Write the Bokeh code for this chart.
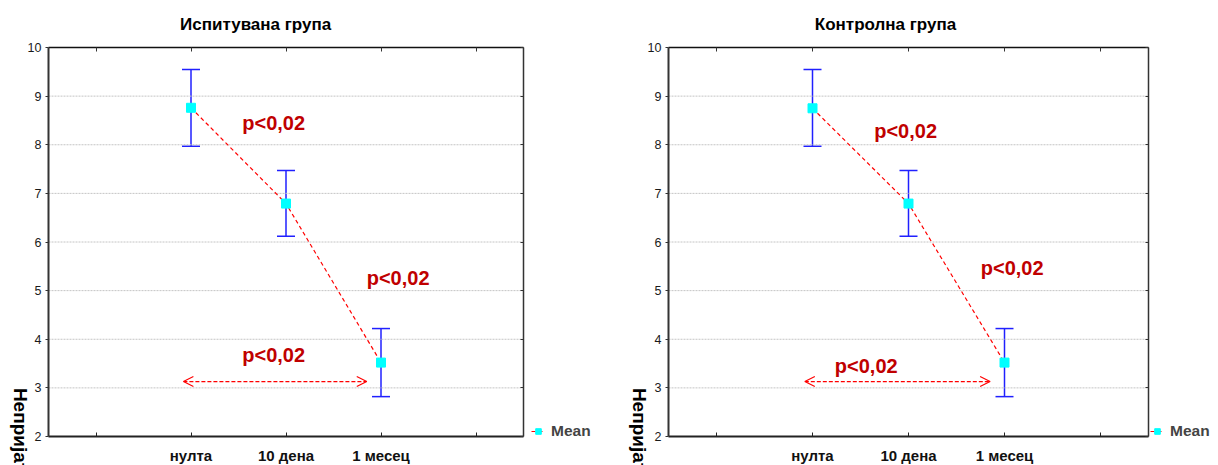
import math
from bokeh.plotting import figure
from bokeh.models import (FixedTicker, LinearAxis, Whisker, ColumnDataSource, Label,
                          Arrow, OpenHead, TeeHead, Legend, LegendItem, Range1d)
from bokeh.layouts import row
from bokeh.embed import file_html
from bokeh.resources import INLINE

# ---------------- data ----------------
categories = ["нулта", "10 дена", "1 месец"]
cat_pos = [1, 2, 3]
test_mean = [8.76, 6.79, 3.52]
test_lower = [7.97, 6.12, 2.82]
test_upper = [9.55, 7.47, 4.22]
ctrl_mean = [8.75, 6.79, 3.52]
ctrl_lower = [7.97, 6.12, 2.82]
ctrl_upper = [9.55, 7.47, 4.22]
titles = ["Испитувана група", "Контролна група"]
y_label = "Непријатност"
p_text = "p<0,02"
legend_label = "Mean"
y_ticks = [2, 3, 4, 5, 6, 7, 8, 9, 10]
x_ticks = [0, 1, 2, 3, 4]
grid_y = [3, 4, 5, 6, 7, 8, 9]

FONT = "Liberation Sans"
RED_TXT = "#c00000"
W, H = 609, 465
XMIN, XMAX, YMIN, YMAX = -0.5, 4.5, 2, 10
FRAME_TOP, FRAME_BOTTOM = 47, 436


def panel(title, means, lows, ups, fl, fr, title_x, ylab_x, ptxt, leg_x):
    # the figure's frame covers the whole canvas; the plotting box (fl..fr, top..bottom)
    # is drawn with fixed-location axes
    xs = (fr - fl) / (XMAX - XMIN)
    ys = (FRAME_BOTTOM - FRAME_TOP) / (YMAX - YMIN)
    xr = Range1d(XMIN - fl / xs, XMAX + (W - fr) / xs)
    yr = Range1d(YMIN - (H - FRAME_BOTTOM) / ys, YMAX + FRAME_TOP / ys)
    p = figure(width=W, height=H, x_range=xr, y_range=yr,
               output_backend="svg", toolbar_location=None,
               min_border_left=0, min_border_right=0, min_border_top=0, min_border_bottom=0)
    p.outline_line_color = None
    p.grid.visible = False

    # horizontal grid lines
    p.segment(x0=XMIN, x1=XMAX, y0=grid_y, y1=grid_y, line_color="#c4c4c4",
              line_dash="2 1", line_width=1)

    # bottom axis
    xa = p.xaxis[0]
    xa.fixed_location = YMIN
    xa.bounds = (XMIN, XMAX)
    xa.ticker = FixedTicker(ticks=x_ticks)
    xa.major_label_overrides = {0: "", 1: categories[0], 2: categories[1], 3: categories[2], 4: ""}
    xa.major_tick_in = 4
    xa.major_tick_out = 0
    xa.minor_tick_line_color = None
    xa.axis_line_width = 2
    xa.axis_line_color = "#222222"
    xa.major_tick_line_color = "#222222"
    xa.major_label_standoff = 10
    xa.major_label_text_font = FONT
    xa.major_label_text_font_style = "bold"
    xa.major_label_text_font_size = "15px"
    xa.major_label_text_color = "#111111"

    # left axis
    ya = p.yaxis[0]
    ya.fixed_location = XMIN
    ya.bounds = (YMIN, YMAX)
    ya.ticker = FixedTicker(ticks=y_ticks)
    ya.major_tick_in = 0
    ya.major_tick_out = 3
    ya.minor_tick_line_color = None
    ya.axis_line_width = 2
    ya.axis_line_color = "#333333"
    ya.major_tick_line_color = "#333333"
    ya.major_label_standoff = 4
    ya.major_label_text_font = FONT
    ya.major_label_text_font_size = "12.5px"
    ya.major_label_text_color = "#1a1a1a"

    # top and right frame lines (tick marks only)
    top = LinearAxis(ticker=FixedTicker(ticks=x_ticks), fixed_location=YMAX, bounds=(XMIN, XMAX),
                     major_tick_in=4, major_tick_out=0, minor_tick_line_color=None,
                     major_label_text_font_size="1px", major_label_text_color=None,
                     major_label_standoff=0, axis_line_width=1.5, axis_line_color="#111111",
                     major_tick_line_color="#333333")
    p.add_layout(top, "above")
    right = LinearAxis(ticker=FixedTicker(ticks=y_ticks), fixed_location=XMAX, bounds=(YMIN, YMAX),
                       major_tick_in=3, major_tick_out=0, minor_tick_line_color=None,
                       major_label_text_font_size="1px", major_label_text_color=None,
                       major_label_standoff=0, axis_line_width=1.5, axis_line_color="#333333",
                       major_tick_line_color="#333333")
    p.add_layout(right, "right")

    src = ColumnDataSource(dict(x=cat_pos, mean=means, lower=lows, upper=ups))
    wh = Whisker(source=src, base="x", upper="upper", lower="lower",
                 line_color="#2020ff", line_width=1.5,
                 upper_head=TeeHead(size=18, line_color="#2020ff", line_width=1.5),
                 lower_head=TeeHead(size=18, line_color="#2020ff", line_width=1.5))
    p.add_layout(wh)
    lr = p.line("x", "mean", source=src, line_color="#ff0000", line_width=1.2, line_dash="4 3")
    sr = p.scatter("x", "mean", source=src, marker="square", size=9,
                   fill_color="#00ffff", line_color="#00ffff")

    arr = Arrow(x_start=0.92, y_start=3.13, x_end=2.85, y_end=3.13,
                line_color="#ff0000", line_width=1.2, line_dash="4 2",
                start=OpenHead(size=10, line_color="#ff0000", line_width=1.2),
                end=OpenHead(size=10, line_color="#ff0000", line_width=1.2))
    p.add_layout(arr)

    for (tx, ty) in ptxt:
        p.add_layout(Label(x=tx, y=ty, text=p_text, text_align="center", text_baseline="middle",
                           text_font=FONT, text_font_style="bold", text_font_size="20px",
                           text_color=RED_TXT))

    p.add_layout(Label(x=title_x, y=10.47, text=title, text_align="center", text_baseline="middle",
                       text_font=FONT, text_font_style="bold", text_font_size="17px",
                       text_color="#000000"))
    p.add_layout(Label(x=ylab_x, y=3.0, text=y_label, angle=-math.pi / 2, text_align="left",
                       text_baseline="middle", text_font=FONT, text_font_style="bold",
                       text_font_size="19px", text_color="#000000"))

    leg = Legend(items=[LegendItem(label=legend_label, renderers=[lr, sr])],
                 location=(leg_x, 25), border_line_color=None, background_fill_alpha=0,
                 padding=0, margin=0, glyph_width=14, glyph_height=14, label_standoff=6,
                 label_text_font=FONT, label_text_font_style="bold", label_text_font_size="15.5px",
                 label_height=14)
    p.add_layout(leg)
    return p


p1 = panel(titles[0], test_mean, test_lower, test_upper, 48, 523, 1.68, -0.79,
           [(1.87, 8.44), (3.18, 5.25), (1.87, 3.67)], 531)
p2 = panel(titles[1], ctrl_mean, ctrl_lower, ctrl_upper, 59, 539, 1.76, -0.80,
           [(1.97, 8.28), (3.08, 5.46), (1.56, 3.46)], 541)

layout = row(p1, p2)
open("out.html", "w").write(file_html(layout, INLINE))
